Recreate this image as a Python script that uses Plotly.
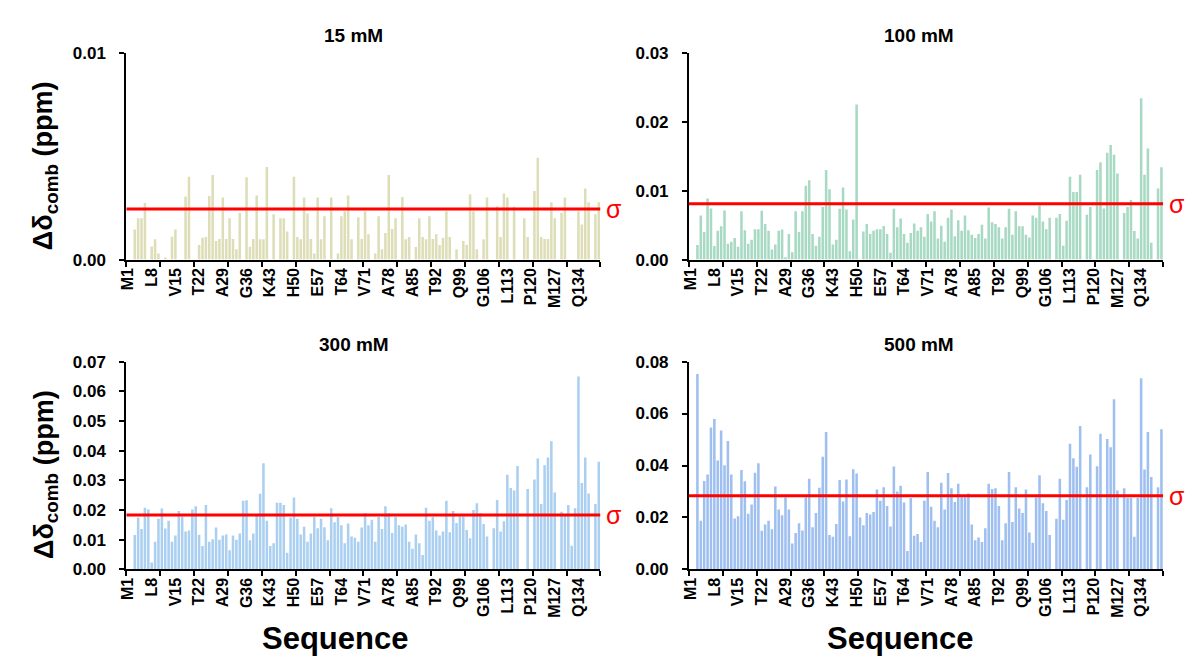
import plotly.graph_objects as go

# ---------------- data ----------------
residues = list(range(1, 141))
tick_residues = [1, 8, 15, 22, 29, 36, 43, 50, 57, 64, 71, 78, 85, 92, 99, 106, 113, 120, 127, 134]
tick_labels = ["M1", "L8", "V15", "T22", "A29", "G36", "K43", "H50", "E57", "T64", "V71", "A78",
               "A85", "T92", "Q99", "G106", "L113", "P120", "M127", "Q134"]

titles = ["15 mM", "100 mM", "300 mM", "500 mM"]
colors = ["#dddeb8", "#a8d9c3", "#aacff0", "#9ebfef"]
sigmas = [0.00245, 0.0081, 0.0183, 0.0284]
y_max = [0.01, 0.03, 0.07, 0.08]
y_step = [0.01, 0.01, 0.01, 0.02]

v15 = [0, 0, 0.00145, 0.0020, 0.0020, 0.00273, 0, 0.00063, 0.00098, 0.0003,
       0, 0.0001, 0, 0.0011, 0.00145, 0, 0, 0.00305, 0.0040, 0,
       0, 0.0007, 0.00106, 0.00109, 0.00308, 0.00409, 0.0009, 0.0010, 0.0030, 0.0010,
       0.0020, 0.0010, 0.0005, 0.00227, 0, 0.00398, 0.00062, 0.0010, 0.0031, 0.00098,
       0.00098, 0.00448, 0, 0.00219, 0, 0.0020, 0.0020, 0.00136, 0, 0.0040,
       0.00109, 0.00098, 0.0030, 0.00223, 0.0010, 0.0003, 0.0030, 0.00098, 0.0021, 0,
       0.0030, 0, 0.0003, 0.0021, 0.00234, 0.0031, 0.00098, 0, 0.00205, 0.0010,
       0.00234, 0.00123, 0, 0.0003, 0.0021, 0.0005, 0.00128, 0.00409, 0.00148, 0.0020,
       0, 0.00303, 0.00098, 0.00109, 0, 0.00061, 0.0020, 0.00109, 0.00098, 0.0021,
       0.0010, 0.00123, 0.0007, 0.00105, 0.00234, 0.00109, 0, 0.0005, 0, 0.0009,
       0.0007, 0.00316, 0.00234, 0.0005, 0, 0.00098, 0.0030, 0, 0, 0.00258,
       0.00109, 0.0032, 0.0030, 0, 0.00255, 0, 0, 0.0020, 0.00109, 0,
       0.00331, 0.00492, 0.00109, 0.0010, 0.0010, 0.00277, 0.0020, 0, 0.00227, 0.0030,
       0, 0, 0, 0.00234, 0.0017, 0.00344, 0.00277, 0, 0.00219, 0.00277]

v100 = [0, 0, 0.0021, 0.0064, 0.0040, 0.00886, 0.0074, 0.00197, 0.0042, 0.00483,
        0.00713, 0.0023, 0.00258, 0.00314, 0.00188, 0.0070, 0.00427, 0.0023, 0.00286, 0.0044,
        0.0044, 0.00708, 0.00516, 0.0042, 0.00145, 0.0022, 0.00417, 0.00436, 0.00033, 0.0037,
        0.00108, 0.0070, 0.0040, 0.0070, 0.0107, 0.0115, 0.0037, 0.0020, 0.00333, 0.00764,
        0.0130, 0.0102, 0.0022, 0.00286, 0.00736, 0.01045, 0.00727, 0.00122, 0.0058, 0.0225,
        0, 0.00408, 0.00516, 0.0037, 0.0042, 0.0044, 0.0044, 0.00488, 0.0037, 0.00098,
        0.00736, 0.00469, 0.00595, 0.0037, 0.00244, 0.00384, 0.00525, 0.00417, 0.00469, 0.00333,
        0.0066, 0.00553, 0.0070, 0.00305, 0.00492, 0.00258, 0.00605, 0.00727, 0.00338, 0.00572,
        0.00417, 0.00638, 0.00427, 0.0036, 0.00314, 0.0037, 0.00506, 0.00305, 0.00755, 0.0054,
        0.00516, 0.00469, 0.00305, 0.00469, 0.00736, 0.0036, 0.0070, 0.00483, 0.00483, 0.0036,
        0.00319, 0.00638, 0.00605, 0.00783, 0.00553, 0.0044, 0.00605, 0, 0.00605, 0.0066,
        0.0020, 0.00563, 0.0120, 0.0098, 0.0098, 0.0123, 0, 0.0065, 0.00764, 0,
        0.0130, 0.0141, 0.0074, 0.0155, 0.0166, 0.0152, 0.0125, 0, 0.00675, 0.00764,
        0.00863, 0.00413, 0.00305, 0.0234, 0.0123, 0.0161, 0.00244, 0, 0.0103, 0.0134]

v300 = [0, 0, 0.0116, 0.0175, 0.0136, 0.0208, 0.0202, 0.0023, 0.0093, 0.0171,
        0.0205, 0.0138, 0.0164, 0.0093, 0.0114, 0.0197, 0.0178, 0.0128, 0.0131, 0.0202,
        0.0213, 0.0117, 0.0079, 0.0217, 0.0093, 0.0102, 0.0141, 0.0100, 0.0114, 0.0118,
        0.0065, 0.0114, 0.0100, 0.0121, 0.0231, 0.0233, 0.0098, 0.0121, 0.0183, 0.0255,
        0.0358, 0.0164, 0.0079, 0.0088, 0.0225, 0.0225, 0.0217, 0.0056, 0.0175, 0.0242,
        0.0171, 0.0118, 0.0144, 0.0093, 0.0121, 0.0177, 0.0139, 0.0171, 0.0142, 0.0098,
        0.0206, 0.0159, 0.0177, 0.0149, 0.0088, 0.0155, 0.0111, 0.0107, 0.0093, 0.0141,
        0.0189, 0.0149, 0.0167, 0.0093, 0.0177, 0.0136, 0.0213, 0.0189, 0.0123, 0.0177,
        0.0149, 0.0144, 0.0151, 0.0093, 0.0070, 0.0118, 0.0088, 0.0049, 0.0208, 0.0164,
        0.0177, 0.0131, 0.0114, 0.0128, 0.0231, 0.0125, 0.0197, 0.0156, 0.0178, 0.0178,
        0.0133, 0.0105, 0.0200, 0.0223, 0.0189, 0.0153, 0.0111, 0, 0.0139, 0.0234,
        0.0128, 0.0162, 0.0319, 0.0274, 0.0266, 0.0348, 0, 0, 0.0271, 0,
        0.0303, 0.0374, 0.0220, 0.0351, 0.0377, 0.0432, 0.0259, 0, 0.0194, 0.0186,
        0.0217, 0.0080, 0.0206, 0.0650, 0.0291, 0.0377, 0.0256, 0, 0.0220, 0.0363]

v500 = [0, 0, 0.0752, 0.01875, 0.0340, 0.0365, 0.0546, 0.0579, 0.0419, 0.0535,
        0.0401, 0.0494, 0.0365, 0.0196, 0.0205, 0.03825, 0.0339, 0.0214, 0.0250, 0.03725,
        0.0409, 0.0149, 0.01725, 0.01875, 0.0155, 0.0319, 0.0231, 0.0209, 0.02775, 0.0231,
        0.0100, 0.0140, 0.01775, 0.0150, 0.02775, 0.0349, 0.01625, 0.02175, 0.0314, 0.0434,
        0.0529, 0.01325, 0.0126, 0.0175, 0.0344, 0.0261, 0.0346, 0.01275, 0.0386, 0.0369,
        0.0200, 0.0170, 0.02175, 0.0211, 0.0221, 0.03075, 0.0264, 0.0316, 0.0244, 0.0165,
        0.0396, 0.0300, 0.03225, 0.02575, 0.0071, 0.0275, 0.0130, 0.0136, 0.0106, 0.0264,
        0.0375, 0.0241, 0.01875, 0.01625, 0.0334, 0.0231, 0.0371, 0.03125, 0.0260, 0.0330,
        0.02775, 0.02775, 0.02925, 0.01725, 0.01125, 0.01225, 0.0106, 0.0159, 0.0330, 0.0310,
        0.03125, 0.0244, 0.01125, 0.01775, 0.0375, 0.01825, 0.0316, 0.0235, 0.02175, 0.03075,
        0.01425, 0.01025, 0.02775, 0.03625, 0.0255, 0.0225, 0.01325, 0, 0.0195, 0.0349,
        0.0191, 0.02675, 0.0484, 0.04275, 0.0395, 0.05525, 0, 0.0316, 0.04425, 0,
        0.03975, 0.05225, 0, 0.05025, 0.0470, 0.0655, 0.0304, 0, 0.03125, 0.0276,
        0.0276, 0.0126, 0.0276, 0.0736, 0.0385, 0.0529, 0.0356, 0, 0.0316, 0.0540]

values = [v15, v100, v300, v500]

# ---------------- layout helpers ----------------
W, H = 1186, 662
boxes = [(120, 597, 45, 258), (686, 1163, 45, 258),
         (120, 597, 363, 577), (686, 1163, 363, 577)]
title_pos = [(349, 27), (917, 27), (349, 345), (917, 345)]

FONT = "Liberation Sans"
fig = go.Figure()
layout_axes = {}
annotations = []
shapes = []
minor_vals = [0.5 + 10 * i for i in range(15)]

for i in range(4):
    n = "" if i == 0 else str(i + 1)
    xa, ya = "x" + n, "y" + n
    x0, x1, y0, y1 = boxes[i]
    fig.add_trace(go.Bar(x=residues, y=values[i], marker=dict(color=colors[i], line=dict(width=0)),
                         xaxis=xa, yaxis=ya, showlegend=False))
    layout_axes["xaxis" + n] = dict(
        domain=[x0 / W, x1 / W], anchor=ya, range=[0.5, 140.5],
        tickmode="array", tickvals=tick_residues, ticktext=tick_labels, tickangle=-90,
        ticks="", showgrid=False, zeroline=False,
        showline=True, linecolor="black", linewidth=2,
        tickfont=dict(family=FONT, size=16, color="black", weight=700),
        minor=dict(tickmode="array", tickvals=minor_vals, ticks="outside", ticklen=5,
                   tickwidth=2, tickcolor="black", showgrid=False),
    )
    layout_axes["yaxis" + n] = dict(
        domain=[1 - y1 / H, 1 - y0 / H], anchor=xa, range=[0, y_max[i]],
        tickmode="linear", tick0=0, dtick=y_step[i], tickformat=".2f",
        ticks="outside", ticklen=5, tickwidth=2, tickcolor="black",
        ticklabelstandoff=10,
        showgrid=False, zeroline=False, showline=True, linecolor="black", linewidth=2,
        tickfont=dict(family=FONT, size=17, color="black", weight=700),
    )
    # sigma line
    shapes.append(dict(type="line", xref=xa, yref=ya, x0=0.5, x1=140.5,
                       y0=sigmas[i], y1=sigmas[i], line=dict(color="#ff0000", width=3)))
    annotations.append(dict(text="σ", xref=xa + " domain", yref=ya, x=1, y=sigmas[i],
                            xanchor="left", yanchor="middle", xshift=4, showarrow=False,
                            font=dict(family=FONT, size=25, color="#ff0000")))
    tx, ty = title_pos[i]
    annotations.append(dict(text="<b>" + titles[i] + "</b>", xref="paper", yref="paper",
                            x=tx / W, y=1 - ty / H, xanchor="center", yanchor="middle",
                            showarrow=False, font=dict(family=FONT, size=19, color="black")))

# y-axis titles
for yc in (161, 479):
    annotations.append(dict(text="<b>Δδ<sub>comb</sub> (ppm)</b>", xref="paper", yref="paper",
                            x=39 / W, y=1 - yc / H, xanchor="center", yanchor="middle",
                            textangle=-90, showarrow=False,
                            font=dict(family=FONT, size=27, color="black")))
# x-axis titles
for xc in (330, 898):
    annotations.append(dict(text="<b>Sequence</b>", xref="paper", yref="paper",
                            x=xc / W, y=1 - 648 / H, xanchor="center", yanchor="middle",
                            showarrow=False, font=dict(family=FONT, size=31, color="black")))

fig.update_layout(
    width=W, height=H, autosize=False,
    margin=dict(l=0, r=0, t=0, b=0),
    paper_bgcolor="white", plot_bgcolor="white",
    bargap=0.25, annotations=annotations, shapes=shapes,
    **layout_axes,
)

fig.write_html("out.html", config={"displayModeBar": False},
               post_script="document.body.style.margin='0';")
